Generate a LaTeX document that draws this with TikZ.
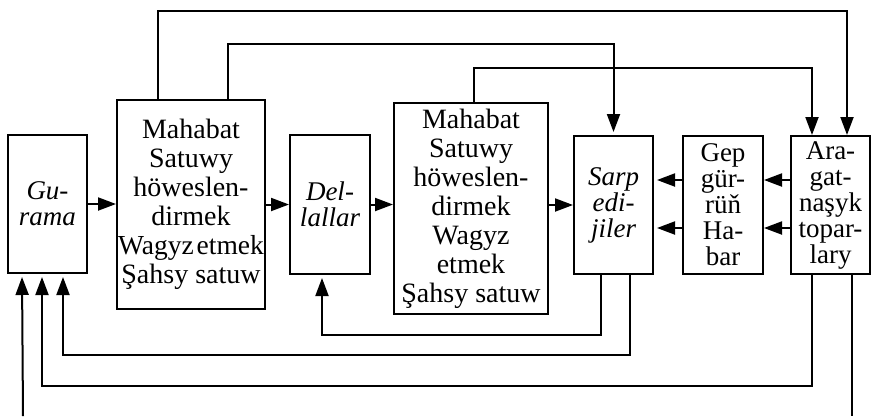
\documentclass[tikz,border=0pt]{standalone}
\usepackage{fontspec}
\setmainfont{Liberation Serif}
\usetikzlibrary{arrows.meta}
\begin{document}
\begin{tikzpicture}[x=1pt,y=-1pt,
  box/.style={draw,line width=2pt,inner sep=0pt,align=center},
  smallbox/.style={box,font=\fontsize{27}{26}\selectfont},
  bigbox/.style={box,font=\fontsize{28}{29}\selectfont},
  conn/.style={line width=2pt},
  arr/.style={conn,-{Triangle[length=18pt,width=13pt]}},
  gaparr/.style={arr,shorten >=3pt}]
\useasboundingbox (0,0) rectangle (871,416);
% boxes
\node[smallbox,minimum width=79pt,minimum height=138pt] (gur) at (47.5,204) {\itshape Gu-\\\itshape rama};
\node[bigbox,minimum width=148pt,minimum height=209pt] (m1) at (191,204.5) {Mahabat\\Satuwy\\höweslen-\\dirmek\\{\fontsize{27.5}{29}\selectfont Wagyz\kern3pt etmek}\\Şahsy satuw};
\node[smallbox,minimum width=80pt,minimum height=139pt] (del) at (330,204.5) {\itshape Del-\\\itshape lallar};
\node[bigbox,minimum width=154pt,minimum height=211pt] (m2) at (471,208.5) {Mahabat\\Satuwy\\höweslen-\\dirmek\\Wagyz\\etmek\\Şahsy satuw};
\node[smallbox,minimum width=79pt,minimum height=138pt] (sarp) at (613.5,205) {\itshape Sarp\\\itshape edi-\\\itshape jiler};
\node[smallbox,minimum width=80pt,minimum height=138pt] (gep) at (723,205) {Gep\\gür-\\rüň\\Ha-\\bar};
\node[smallbox,minimum width=79pt,minimum height=138pt] (ara) at (830.5,205) {Ara-\\gat-\\naşyk\\topar-\\lary};
% main chain
\draw[arr] (gur.east) -- (gur.east -| m1.west);
\draw[arr] (m1.east) -- (m1.east -| del.west);
\draw[arr] (del.east) -- (del.east -| m2.west);
\draw[arr] ([yshift=3.5pt]m2.east) -- ([yshift=3.5pt]m2.east -| sarp.west);
% right-to-left arrows
\draw[arr] ([yshift=25pt]ara.west) coordinate (a1) -- (a1 -| gep.east);
\draw[arr] ([yshift=-23pt]ara.west) coordinate (a2) -- (a2 -| gep.east);
\draw[gaparr] ([yshift=25pt]gep.west) coordinate (g1) -- (g1 -| sarp.east);
\draw[gaparr] ([yshift=-23pt]gep.west) coordinate (g2) -- (g2 -| sarp.east);
% top loops
\draw[arr] ([xshift=42pt]m1.north west) -- ++(0,-88) -| ([xshift=57pt]ara.north west);
\draw[gaparr] ([xshift=112pt]m1.north west) -- ++(0,-55) -| (sarp.north);
\draw[arr] ([xshift=81pt]m2.north west) -- ++(0,-34) -| ([xshift=22pt]ara.north west);
% bottom loops
\draw[gaparr] ([xshift=28pt]sarp.south west) -- ++(0,60) -| ([xshift=33pt]del.south west);
\draw[gaparr] ([xshift=57pt]sarp.south west) -- ++(0,80) -| ([xshift=56pt]gur.south west);
\draw[gaparr] ([xshift=22pt]ara.south west) -- ++(0,111) -| ([xshift=35pt]gur.south west);
\coordinate (outr) at ([xshift=62pt]ara.south west |- 0,416);
\draw[conn] ([xshift=62pt]ara.south west) -- (outr);
\coordinate (inl) at (23,416);
\draw[gaparr] (inl) -- ([xshift=15pt]gur.south west);
\end{tikzpicture}
\end{document}
